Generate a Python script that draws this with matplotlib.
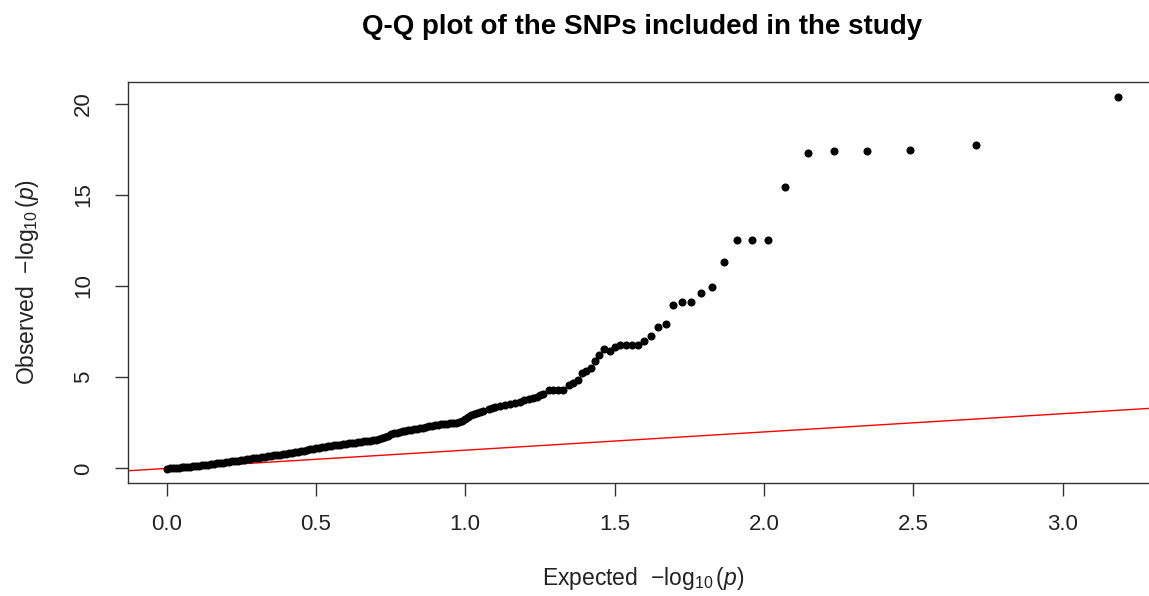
import numpy as np
import matplotlib.pyplot as plt

plt.rcParams['font.family'] = ['Liberation Sans', 'DejaVu Sans']
plt.rcParams['mathtext.fontset'] = 'custom'
plt.rcParams['mathtext.rm'] = 'Liberation Sans'
plt.rcParams['mathtext.it'] = 'Liberation Sans:italic'

# expected -log10(p) and observed -log10(p)
expected = [0.00, 0.01, 0.02, 0.03, 0.04, 0.05, 0.06, 0.07, 0.08, 0.09,
            0.10, 0.11, 0.12, 0.13, 0.14, 0.15, 0.16, 0.17, 0.18, 0.19,
            0.20, 0.21, 0.22, 0.23, 0.24, 0.25, 0.26, 0.27, 0.28, 0.29,
            0.30, 0.31, 0.32, 0.33, 0.34, 0.35, 0.36, 0.37, 0.38, 0.39,
            0.40, 0.41, 0.42, 0.43, 0.44, 0.45, 0.46, 0.47, 0.48, 0.49,
            0.50, 0.51, 0.52, 0.53, 0.54, 0.55, 0.56, 0.57, 0.58, 0.59,
            0.60, 0.61, 0.62, 0.63, 0.64, 0.65, 0.66, 0.67, 0.68, 0.69,
            0.70, 0.71, 0.72, 0.73, 0.74, 0.75, 0.76, 0.77, 0.78, 0.79,
            0.80, 0.81, 0.82, 0.83, 0.84, 0.85, 0.86, 0.87, 0.88, 0.89,
            0.90, 0.91, 0.92, 0.93, 0.94, 0.95, 0.96, 0.97, 0.98, 0.99,
            1.00, 1.01, 1.02, 1.03, 1.04, 1.05, 1.06,
            1.078, 1.09, 1.10, 1.117, 1.134, 1.15, 1.167,
            1.184, 1.198, 1.212, 1.226, 1.24, 1.251, 1.262, 1.279, 1.295, 1.312,
            1.329, 1.346, 1.36, 1.376, 1.39, 1.405, 1.42, 1.436, 1.449, 1.465,
            1.485, 1.502, 1.519, 1.539, 1.558, 1.578, 1.598, 1.623, 1.647, 1.673,
            1.697, 1.726, 1.757, 1.791, 1.826, 1.865, 1.911, 1.959, 2.013, 2.072,
            2.147, 2.235, 2.345, 2.488, 2.711, 3.185]
observed = [-0.03, 0.02, 0.03, 0.04, 0.05, 0.07, 0.08, 0.09, 0.10, 0.12,
            0.13, 0.15, 0.17, 0.19, 0.21, 0.23, 0.25, 0.27, 0.29, 0.31,
            0.33, 0.35, 0.38, 0.40, 0.42, 0.45, 0.47, 0.50, 0.52, 0.55,
            0.57, 0.59, 0.61, 0.64, 0.66, 0.69, 0.71, 0.74, 0.76, 0.79,
            0.81, 0.84, 0.86, 0.89, 0.92, 0.95, 0.98, 1.01, 1.04, 1.07,
            1.10, 1.13, 1.16, 1.19, 1.22, 1.24, 1.26, 1.29, 1.31, 1.34,
            1.36, 1.38, 1.40, 1.42, 1.44, 1.46, 1.48, 1.50, 1.52, 1.55,
            1.58, 1.63, 1.68, 1.74, 1.80, 1.86, 1.92, 1.96, 2.00, 2.03,
            2.06, 2.09, 2.12, 2.15, 2.18, 2.21, 2.24, 2.27, 2.30, 2.33,
            2.36, 2.39, 2.42, 2.44, 2.45, 2.47, 2.48, 2.50, 2.52, 2.62,
            2.72, 2.84, 2.92, 2.98, 3.04, 3.10, 3.14,
            3.24, 3.30, 3.34, 3.42, 3.47, 3.51, 3.58,
            3.64, 3.74, 3.82, 3.88, 3.93, 4.00, 4.07, 4.29, 4.29, 4.29,
            4.29, 4.56, 4.67, 4.84, 5.22, 5.35, 5.49, 5.90, 6.22, 6.52,
            6.44, 6.63, 6.79, 6.79, 6.76, 6.76, 7.01, 7.25, 7.73, 7.89,
            8.94, 9.14, 9.12, 9.61, 9.92, 11.32, 12.51, 12.51, 12.51, 15.44,
            17.31, 17.38, 17.38, 17.47, 17.71, 20.38]

x_ticks = [0.0, 0.5, 1.0, 1.5, 2.0, 2.5, 3.0]
x_tick_labels = ['0.0', '0.5', '1.0', '1.5', '2.0', '2.5', '3.0']
y_ticks = [0, 5, 10, 15, 20]
y_tick_labels = ['0', '5', '10', '15', '20']

fig = plt.figure(figsize=(11.49, 5.96), dpi=100)
ax = fig.add_axes([0.1117, 0.1891, 0.8962, 0.6738])

ax.plot(expected, observed, 'o', color='black', markersize=5.8,
        markeredgewidth=0, zorder=3)
# y = x reference line
ax.plot([-1, 4], [-1, 4], color='red', linewidth=1.0, zorder=2)

ax.set_xlim(-0.128, 3.32)
ax.set_ylim(-0.816, 21.2)
ax.set_xticks(x_ticks)
ax.set_xticklabels(x_tick_labels)
ax.set_yticks(y_ticks)
ax.set_yticklabels(y_tick_labels, rotation=90, va='center')

ax.tick_params(axis='both', length=9.4, width=1.0, color='#333333',
               labelsize=16, labelcolor='#222222')
ax.tick_params(axis='x', pad=13)
ax.tick_params(axis='y', pad=15.5)
for s in ax.spines.values():
    s.set_color('#333333')
    s.set_linewidth(1.0)

fig.text(643 / 1149, 1 - 578 / 596, 'Expected  $-\\log_{10}(\\mathit{p})$',
         ha='center', va='center', fontsize=16.5, color='#222222')
fig.text(28 / 1149, 1 - 282 / 596, 'Observed  $-\\log_{10}(\\mathit{p})$',
         ha='center', va='center', rotation=90, fontsize=16.5, color='#222222')
fig.text(642 / 1149, 1 - 27 / 596, 'Q-Q plot of the SNPs included in the study',
         ha='center', va='center', fontsize=20, fontweight='bold')

fig.savefig('out.png', dpi=100)
